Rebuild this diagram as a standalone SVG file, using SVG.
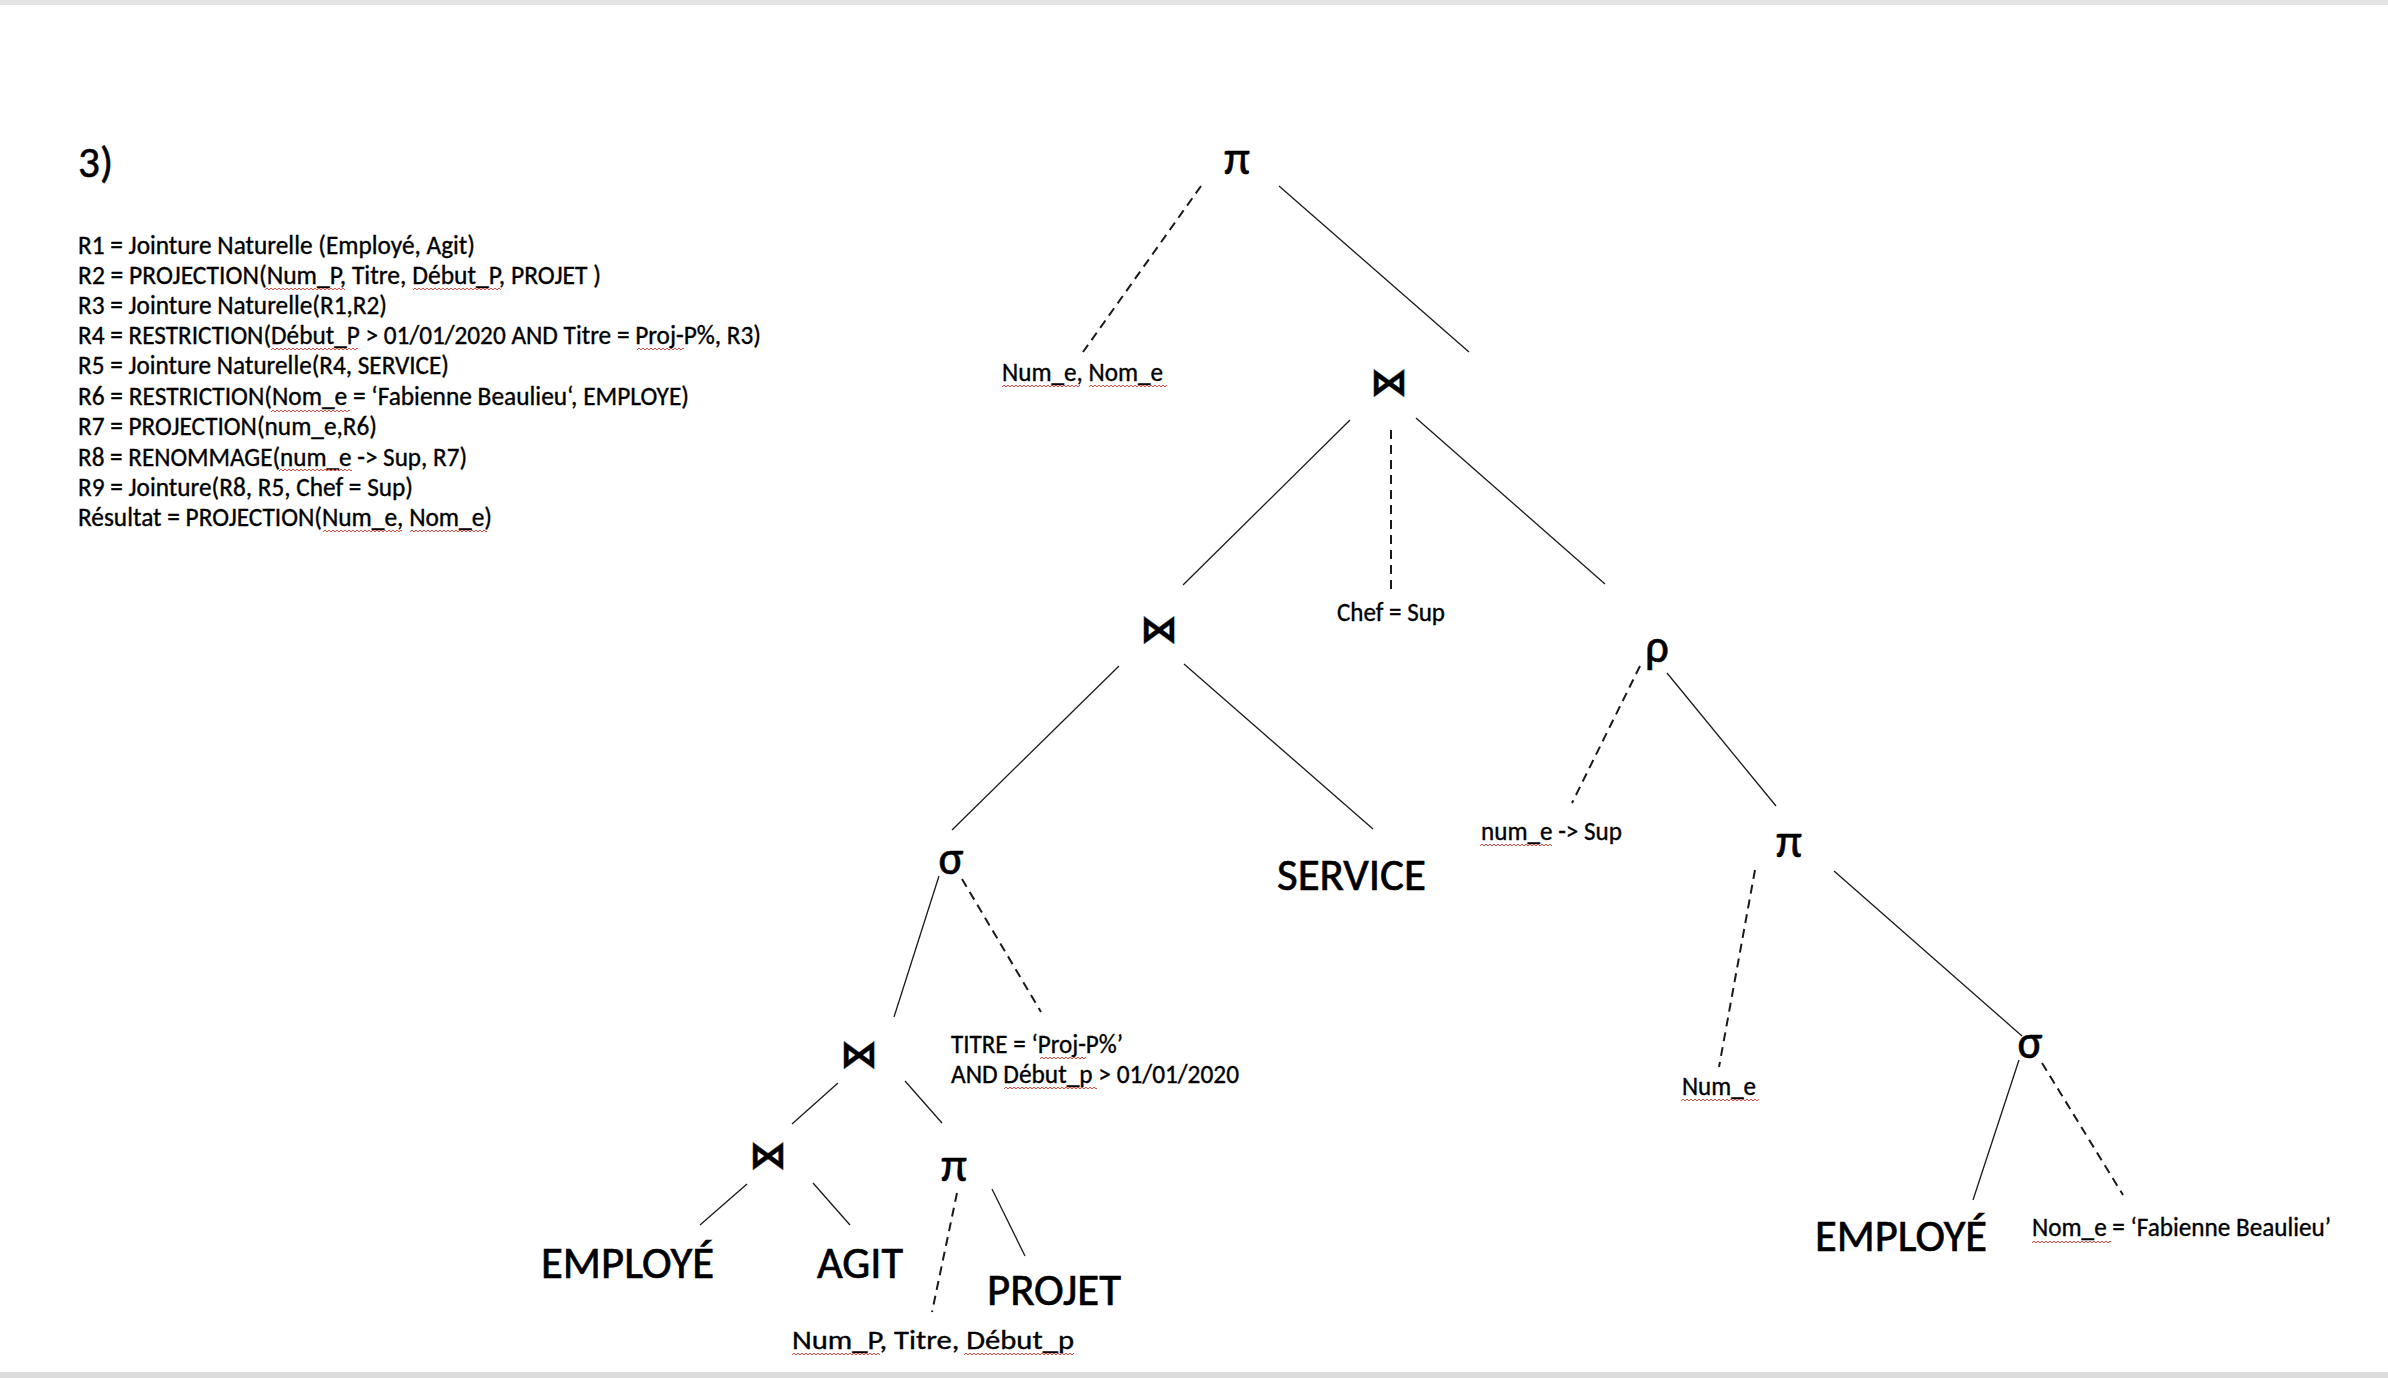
<svg xmlns="http://www.w3.org/2000/svg" width="2388" height="1378" viewBox="0 0 2388 1378">
<defs>
<pattern id="sq" width="4" height="4" patternUnits="userSpaceOnUse"><path d="M0 3 L2 1 L4 3" fill="none" stroke="#e0392b" stroke-width="0.9"/></pattern>
<style>
.t{font-family:Carlito,'Liberation Sans Narrow',Lato,'Liberation Sans',sans-serif;fill:#000;stroke:#000}
.s{font-size:26px;stroke-width:0.35}
.b{font-size:46px;stroke-width:0.7}
.g{font-family:Carlito,'Noto Sans','DejaVu Sans',sans-serif;font-size:47px;text-anchor:middle;fill:#000;stroke:#000;stroke-width:0.6}
.j{font-family:'DejaVu Sans',sans-serif;font-weight:bold;font-size:38px;text-anchor:middle;fill:#000;stroke:#000;stroke-width:0.4}
.ln{stroke:#1a1a1a;stroke-width:1.3;fill:none}
.dl{stroke:#1a1a1a;stroke-width:2;stroke-dasharray:9 6;fill:none}
.sq{fill:url(#sq)}
</style>
</defs>
<rect x="0" y="0" width="2388" height="1378" fill="#fff"/>
<rect x="0" y="0" width="2388" height="5" fill="#e4e4e4"/>
<rect x="0" y="1372" width="2388" height="6" fill="#dcdcdc"/>

<g id="statement">
<text class="t" x="78" y="177" font-size="44" stroke-width="0.6" textLength="35" lengthAdjust="spacingAndGlyphs">3)</text>
<text class="t s" x="78" y="254" textLength="397" lengthAdjust="spacingAndGlyphs">R1 = Jointure Naturelle (Employé, Agit)</text>
<text class="t s" x="78" y="284" textLength="523" lengthAdjust="spacingAndGlyphs">R2 = PROJECTION(Num_P, Titre, Début_P, PROJET )</text>
<text class="t s" x="78" y="314" textLength="309" lengthAdjust="spacingAndGlyphs">R3 = Jointure Naturelle(R1,R2)</text>
<text class="t s" x="78" y="344" textLength="683" lengthAdjust="spacingAndGlyphs">R4 = RESTRICTION(Début_P &gt; 01/01/2020 AND Titre = Proj-P%, R3)</text>
<text class="t s" x="78" y="374" textLength="371" lengthAdjust="spacingAndGlyphs">R5 = Jointure Naturelle(R4, SERVICE)</text>
<text class="t s" x="78" y="405" textLength="611" lengthAdjust="spacingAndGlyphs">R6 = RESTRICTION(Nom_e = ‘Fabienne Beaulieu‘, EMPLOYE)</text>
<text class="t s" x="78" y="435" textLength="299" lengthAdjust="spacingAndGlyphs">R7 = PROJECTION(num_e,R6)</text>
<text class="t s" x="78" y="466" textLength="389" lengthAdjust="spacingAndGlyphs">R8 = RENOMMAGE(num_e -&gt; Sup, R7)</text>
<text class="t s" x="78" y="496" textLength="335" lengthAdjust="spacingAndGlyphs">R9 = Jointure(R8, R5, Chef = Sup)</text>
<text class="t s" x="78" y="526" textLength="414" lengthAdjust="spacingAndGlyphs">Résultat = PROJECTION(Num_e, Nom_e)</text>
<rect class="sq" transform="translate(265,287)" width="80" height="4"/>
<rect class="sq" transform="translate(413,287)" width="88" height="4"/>
<rect class="sq" transform="translate(271,347)" width="87" height="4"/>
<rect class="sq" transform="translate(637,347)" width="47" height="4"/>
<rect class="sq" transform="translate(271,409)" width="79" height="4"/>
<rect class="sq" transform="translate(279,468)" width="73" height="4"/>
<rect class="sq" transform="translate(323,529)" width="79" height="4"/>
<rect class="sq" transform="translate(410,529)" width="77" height="4"/>
</g>

<g id="connectors">
<line class="ln" x1="1279" y1="186" x2="1469" y2="352"/>
<line class="ln" x1="1350" y1="420" x2="1183" y2="585"/>
<line class="ln" x1="1416" y1="418" x2="1605" y2="584"/>
<line class="ln" x1="1119" y1="666" x2="952" y2="830"/>
<line class="ln" x1="1184" y1="664" x2="1373" y2="829"/>
<line class="ln" x1="1667" y1="673" x2="1776" y2="806"/>
<line class="ln" x1="1834" y1="871" x2="2022" y2="1036"/>
<line class="ln" x1="2019" y1="1060" x2="1973" y2="1200"/>
<line class="ln" x1="939" y1="876" x2="894" y2="1017"/>
<line class="ln" x1="838" y1="1083" x2="792" y2="1124"/>
<line class="ln" x1="905" y1="1081" x2="942" y2="1123"/>
<line class="ln" x1="747" y1="1184" x2="700" y2="1225"/>
<line class="ln" x1="813" y1="1183" x2="850" y2="1225"/>
<line class="ln" x1="992" y1="1189" x2="1025" y2="1256"/>
<line class="dl" x1="1201" y1="186" x2="1083" y2="352"/>
<line class="dl" x1="1391" y1="430" x2="1391" y2="591"/>
<line class="dl" x1="1640" y1="666" x2="1572" y2="803"/>
<line class="dl" x1="962" y1="879" x2="1041" y2="1012"/>
<line class="dl" x1="957" y1="1193" x2="932" y2="1312"/>
<line class="dl" x1="1755" y1="870" x2="1719" y2="1067"/>
<line class="dl" x1="2042" y1="1063" x2="2123" y2="1195"/>
</g>

<g id="n-pi-root"><text class="g" x="1237" y="174">π</text></g>
<g id="n-proj-attrs"><text class="t s" x="1002" y="381" textLength="161" lengthAdjust="spacingAndGlyphs">Num_e, Nom_e</text>
<rect class="sq" transform="translate(1002,384)" width="78" height="4"/>
<rect class="sq" transform="translate(1089,384)" width="78" height="4"/></g>
<g id="n-join-top"><text class="j" x="1389" y="395">⋈</text></g>
<g id="n-join-cond"><text class="t s" x="1337" y="621" textLength="108" lengthAdjust="spacingAndGlyphs">Chef = Sup</text></g>
<g id="n-join-mid"><text class="j" x="1159" y="642">⋈</text></g>
<g id="n-rho"><text class="g" x="1657" y="662">ρ</text></g>
<g id="n-rho-attrs"><text class="t s" x="1481" y="840" textLength="141" lengthAdjust="spacingAndGlyphs">num_e -&gt; Sup</text>
<rect class="sq" transform="translate(1480,843)" width="72" height="4"/></g>
<g id="n-service"><text class="t b" x="1277" y="890" textLength="149" lengthAdjust="spacingAndGlyphs">SERVICE</text></g>
<g id="n-sigma-left"><text class="g" x="951" y="874">σ</text></g>
<g id="n-sigma-left-cond"><text class="t s" x="951" y="1053" textLength="172" lengthAdjust="spacingAndGlyphs">TITRE = ‘Proj-P%’</text>
<text class="t s" x="951" y="1083" textLength="288" lengthAdjust="spacingAndGlyphs">AND Début_p &gt; 01/01/2020</text>
<rect class="sq" transform="translate(1040,1056)" width="46" height="4"/>
<rect class="sq" transform="translate(1004,1086)" width="93" height="4"/></g>
<g id="n-join-low"><text class="j" x="859" y="1067">⋈</text></g>
<g id="n-join-bottom"><text class="j" x="768" y="1168">⋈</text></g>
<g id="n-pi-small"><text class="g" x="954" y="1181">π</text></g>
<g id="n-employe-left"><text class="t b" x="541" y="1278" textLength="173" lengthAdjust="spacingAndGlyphs">EMPLOYÉ</text></g>
<g id="n-agit"><text class="t b" x="817" y="1278" textLength="86" lengthAdjust="spacingAndGlyphs">AGIT</text></g>
<g id="n-projet"><text class="t b" x="987" y="1305" textLength="134" lengthAdjust="spacingAndGlyphs">PROJET</text></g>
<g id="n-pi-small-attrs"><text class="t s" x="792" y="1349" textLength="282" lengthAdjust="spacingAndGlyphs">Num_P, Titre, Début_p</text>
<rect class="sq" transform="translate(792,1352)" width="88" height="4"/>
<rect class="sq" transform="translate(964,1352)" width="110" height="4"/></g>
<g id="n-pi-right"><text class="g" x="1789" y="857">π</text></g>
<g id="n-pi-right-attrs"><text class="t s" x="1682" y="1095" textLength="74" lengthAdjust="spacingAndGlyphs">Num_e</text>
<rect class="sq" transform="translate(1681,1098)" width="78" height="4"/></g>
<g id="n-sigma-right"><text class="g" x="2030" y="1058">σ</text></g>
<g id="n-employe-right"><text class="t b" x="1815" y="1251" textLength="172" lengthAdjust="spacingAndGlyphs">EMPLOYÉ</text></g>
<g id="n-sigma-right-cond"><text class="t s" x="2032" y="1236" textLength="299" lengthAdjust="spacingAndGlyphs">Nom_e = ‘Fabienne Beaulieu’</text>
<rect class="sq" transform="translate(2032,1240)" width="79" height="4"/></g>
</svg>
